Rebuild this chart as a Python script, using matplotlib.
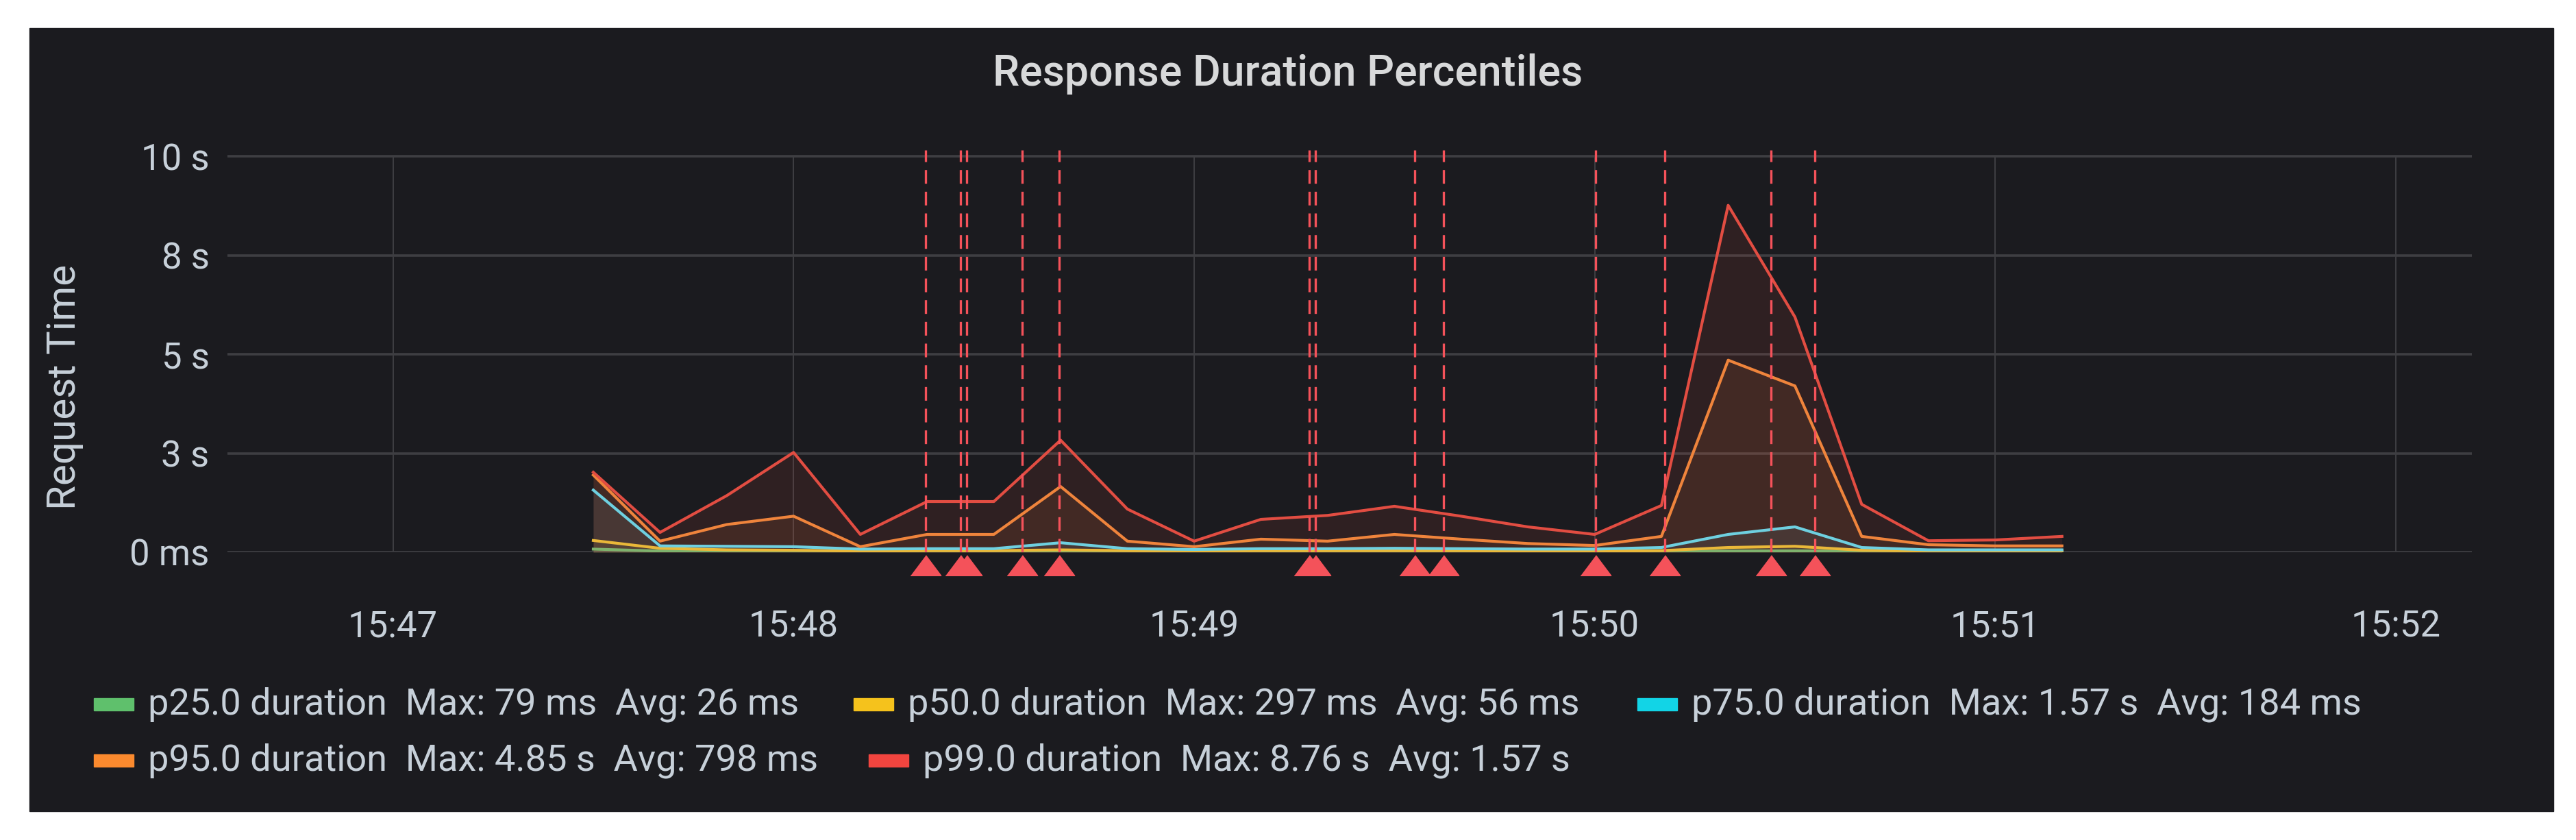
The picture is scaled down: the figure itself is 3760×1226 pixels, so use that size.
import pandas as pd
import numpy as np
import matplotlib
matplotlib.use('Agg')
import matplotlib.pyplot as plt
import matplotlib.dates as mdates
from matplotlib.patches import Rectangle

plt.rcParams['font.family'] = ['Roboto', 'DejaVu Sans']

day = '2020-01-01 '
times = ['15:47:30', '15:47:40', '15:47:50', '15:48:00', '15:48:10', '15:48:20',
         '15:48:30', '15:48:40', '15:48:50', '15:49:00', '15:49:10', '15:49:20',
         '15:49:30', '15:49:40', '15:49:50', '15:50:00', '15:50:10', '15:50:20',
         '15:50:30', '15:50:40', '15:50:50', '15:51:00', '15:51:10']

# seconds
p25 = [0.079, 0.03, 0.025, 0.025, 0.02, 0.02, 0.02, 0.025, 0.02, 0.02, 0.02, 0.02,
       0.02, 0.02, 0.02, 0.02, 0.02, 0.03, 0.035, 0.02, 0.02, 0.02, 0.02]
p50 = [0.297, 0.10, 0.06, 0.05, 0.03, 0.04, 0.04, 0.06, 0.04, 0.03, 0.04, 0.04,
       0.04, 0.04, 0.03, 0.03, 0.04, 0.12, 0.15, 0.05, 0.03, 0.03, 0.03]
p75 = [1.57, 0.16, 0.15, 0.14, 0.08, 0.09, 0.09, 0.24, 0.09, 0.07, 0.09, 0.09,
       0.10, 0.09, 0.08, 0.08, 0.12, 0.45, 0.64, 0.12, 0.06, 0.06, 0.06]
p95 = [1.95, 0.28, 0.70, 0.91, 0.14, 0.45, 0.45, 1.66, 0.28, 0.14, 0.33, 0.28,
       0.45, 0.33, 0.22, 0.17, 0.40, 4.85, 4.20, 0.40, 0.19, 0.16, 0.16]
p99 = [2.02, 0.50, 1.43, 2.52, 0.45, 1.28, 1.28, 2.83, 1.09, 0.28, 0.83, 0.93,
       1.16, 0.91, 0.64, 0.45, 1.18, 8.76, 5.94, 1.21, 0.29, 0.31, 0.40]

names = ['p25.0 duration', 'p50.0 duration', 'p75.0 duration', 'p95.0 duration', 'p99.0 duration']
max_txt = ['Max: 79 ms', 'Max: 297 ms', 'Max: 1.57 s', 'Max: 4.85 s', 'Max: 8.76 s']
avg_txt = ['Avg: 26 ms', 'Avg: 56 ms', 'Avg: 184 ms', 'Avg: 798 ms', 'Avg: 1.57 s']
colors = ['#7EB26D', '#EAB839', '#6ED0E0', '#EF843C', '#E24D42']
swatch = ['#5fc06c', '#f5c21c', '#12d4e6', '#fb8a2e', '#f2453f']

annotations = ['15:48:19.8', '15:48:25.0', '15:48:25.9', '15:48:34.2', '15:48:39.8',
               '15:49:17.2', '15:49:18.2', '15:49:33.1', '15:49:37.4', '15:50:00.1',
               '15:50:10.5', '15:50:26.4', '15:50:33.0']

yticks = [0, 2.5, 5, 7.5, 10]
yticklabels = ['0 ms', '3 s', '5 s', '8 s', '10 s']
minutes = ['15:47', '15:48', '15:49', '15:50', '15:51', '15:52']

bg = '#1b1b1f'
txt = '#c7d0d9'
grid = '#3e3e42'
ann = '#F4525A'

W, H = 3760, 1226
fig = plt.figure(figsize=(W / 100, H / 100), dpi=100, facecolor='white')
fig.patches.append(Rectangle((43 / W, 1 - 1184 / H), (3727 - 43) / W, (1184 - 41) / H,
                             transform=fig.transFigure, color=bg, zorder=-5))

ax = fig.add_axes([332 / W, 1 - 806 / H, (3608 - 332) / W, (806 - 219) / H])
ax.patch.set_alpha(0)

t = pd.to_datetime([day + s for s in times])
series = [p25, p50, p75, p95, p99]
for vals, c in zip(series, colors):
    ax.fill_between(t, 0, vals, color=c, alpha=0.1, lw=0, zorder=2)
    ax.plot(t, vals, color=c, lw=3.0, zorder=3)

# grid
for y in yticks:
    ax.axhline(y, color=grid, lw=2.6, zorder=1)
mt = pd.to_datetime([day + m for m in minutes])
ax.vlines(mt, 0, 10, color=grid, lw=1.4, zorder=1)

# annotations
at = pd.to_datetime([day + a for a in annotations])
for a in at:
    ax.axvline(a, color=ann, lw=2.4, ls=(0, (6, 3.5)), zorder=4)
tri = [(-0.75, -0.5), (0.75, -0.5), (0, 0.5)]
ax.plot(at, np.full(len(at), -0.032), ls='none', marker=tri, ms=32, color=ann,
        transform=ax.get_xaxis_transform(), clip_on=False, zorder=5)

ax.set_xlim(pd.Timestamp(day + '15:46:35.2'), pd.Timestamp(day + '15:52:11.4'))
ax.set_ylim(0, 10.156)
ax.set_yticks(yticks)
ax.set_yticklabels(yticklabels)
ax.set_xticks(mt)
ax.xaxis.set_major_formatter(mdates.DateFormatter('%H:%M'))
ax.tick_params(axis='both', length=0, labelsize=38, labelcolor=txt)
ax.tick_params(axis='y', pad=19)
ax.tick_params(axis='x', pad=60)
for s in ax.spines.values():
    s.set_visible(False)

fig.text(1880 / W, 1 - 108 / H, 'Response Duration Percentiles', ha='center', va='center',
         fontsize=45, fontweight=500, color='#d8d9da')
fig.text(95 / W, 1 - 565 / H, 'Request Time', ha='center', va='center', rotation=90,
         fontsize=42, color=txt)

# legend
leg_pos = [(137, 1028), (1246, 1028), (2390, 1028), (137, 1110), (1268, 1110)]
for (lx, ly), n, mx, av, c in zip(leg_pos, names, max_txt, avg_txt, swatch):
    fig.patches.append(Rectangle((lx / W, 1 - (ly + 9) / H), 58 / W, 18 / H,
                                 transform=fig.transFigure, color=c, zorder=3))
    fig.text((lx + 79) / W, 1 - ly / H, n + '  ' + mx + '  ' + av, ha='left', va='center',
             fontsize=39, color=txt)

plt.savefig('out.png', dpi=100, facecolor='white')
